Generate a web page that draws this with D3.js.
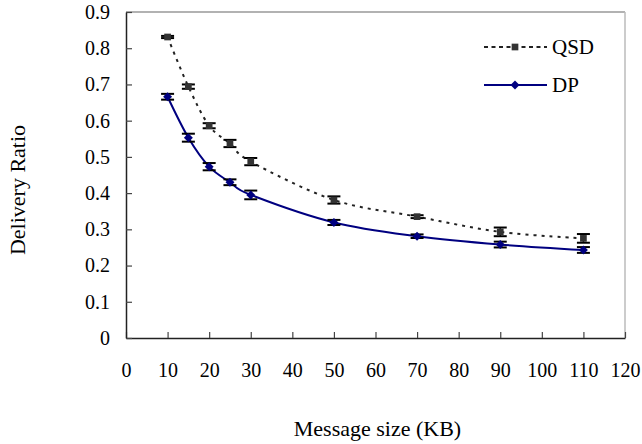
<!DOCTYPE html>
<html>
<head>
<meta charset="utf-8">
<script src="https://cdn.jsdelivr.net/npm/d3@7"></script>
<style>
  body { margin: 0; background: #fff; }
</style>
</head>
<body>
<div id="chart"></div>
<script>
// data
var sizes = [10, 15, 20, 25, 30, 50, 70, 90, 110];
var qsd = [0.831, 0.694, 0.586, 0.537, 0.487, 0.381, 0.335, 0.293, 0.275];
var qsdErr = [0.003, 0.006, 0.007, 0.010, 0.010, 0.010, 0.004, 0.012, 0.012];
var dp = [0.666, 0.553, 0.473, 0.430, 0.395, 0.319, 0.281, 0.258, 0.243];
var dpErr = [0.008, 0.011, 0.010, 0.008, 0.012, 0.007, 0.005, 0.008, 0.008];
var xTicks = [0, 10, 20, 30, 40, 50, 60, 70, 80, 90, 100, 110, 120];
var yTicks = [0, 0.1, 0.2, 0.3, 0.4, 0.5, 0.6, 0.7, 0.8, 0.9];
var seriesNames = ["QSD", "DP"];

var serif = "'Liberation Serif', 'Times New Roman', 'DejaVu Serif', serif";

function drawChart() {
    var width = 642, height = 444;
    var pLeft = 126, pRight = 625, pTop = 12, pBottom = 338;

    var svg = d3.select("#chart").append("svg")
        .attr("width", width)
        .attr("height", height)
        .style("font-family", serif);

    var x = d3.scaleLinear().domain([0, 120]).range([pLeft, pRight]);
    var y = d3.scaleLinear().domain([0, 0.9]).range([pBottom, pTop]);

    // frame: top and right borders are light grey
    svg.append("line")
        .attr("x1", pLeft).attr("x2", pRight).attr("y1", pTop).attr("y2", pTop)
        .attr("stroke", "#999").attr("stroke-width", 1.5);
    svg.append("line")
        .attr("x1", pRight).attr("x2", pRight).attr("y1", pTop).attr("y2", pBottom)
        .attr("stroke", "#bbb").attr("stroke-width", 1.5);

    // axes, ticks pointing inward
    var xAxis = svg.append("g")
        .attr("transform", "translate(0," + pBottom + ")")
        .call(d3.axisBottom(x).tickValues(xTicks).tickSizeInner(-6).tickSizeOuter(0).tickPadding(25));
    var yAxis = svg.append("g")
        .attr("transform", "translate(" + pLeft + ",0)")
        .call(d3.axisLeft(y).tickValues(yTicks)
            .tickFormat(function(d) { return d === 0 ? "0" : d3.format(".1f")(d); })
            .tickSizeInner(-6).tickSizeOuter(0).tickPadding(16));

    [xAxis, yAxis].forEach(function(a) {
        a.attr("font-family", null).attr("font-size", null);
        a.select(".domain").attr("stroke", "#222").attr("stroke-width", 1.5);
        a.selectAll(".tick line").attr("stroke", "#444").attr("stroke-width", 1.2);
        a.selectAll("text").style("font-size", "20px").attr("fill", "#000")
            .style("font-family", serif);
    });

    // axis titles
    svg.append("text")
        .attr("x", (pLeft + pRight) / 2 + 2)
        .attr("y", 436)
        .attr("text-anchor", "middle")
        .style("font-size", "22px")
        .style("font-family", serif)
        .text("Message size (KB)");
    svg.append("text")
        .attr("transform", "translate(25,190) rotate(-90)")
        .attr("text-anchor", "middle")
        .style("font-size", "22px")
        .style("font-family", serif)
        .text("Delivery Ratio");

    var qsdData = sizes.map(function(s, i) { return {x: s, y: qsd[i], e: qsdErr[i]}; });
    var dpData = sizes.map(function(s, i) { return {x: s, y: dp[i], e: dpErr[i]}; });

    var line = d3.line()
        .x(function(d) { return x(d.x); })
        .y(function(d) { return y(d.y); })
        .curve(d3.curveCatmullRom.alpha(0));

    // QSD dotted line
    svg.append("path")
        .datum(qsdData)
        .attr("d", line)
        .attr("fill", "none")
        .attr("stroke", "#222")
        .attr("stroke-width", 2)
        .attr("stroke-dasharray", "3,5");

    // DP solid line
    svg.append("path")
        .datum(dpData)
        .attr("d", line)
        .attr("fill", "none")
        .attr("stroke", "#000080")
        .attr("stroke-width", 2);

    // error bars
    function errorBars(data) {
        var g = svg.append("g");
        g.selectAll("line.v").data(data).enter().append("line")
            .attr("x1", function(d) { return x(d.x); })
            .attr("x2", function(d) { return x(d.x); })
            .attr("y1", function(d) { return y(d.y - d.e); })
            .attr("y2", function(d) { return y(d.y + d.e); })
            .attr("stroke", "#000").attr("stroke-width", 1.5);
        [1, -1].forEach(function(sign) {
            g.selectAll("line.cap" + sign).data(data).enter().append("line")
                .attr("x1", function(d) { return x(d.x) - 6.5; })
                .attr("x2", function(d) { return x(d.x) + 6.5; })
                .attr("y1", function(d) { return y(d.y + sign * d.e); })
                .attr("y2", function(d) { return y(d.y + sign * d.e); })
                .attr("stroke", "#000").attr("stroke-width", 2);
        });
    }
    errorBars(qsdData);
    errorBars(dpData);

    // markers
    var square = d3.symbol().type(d3.symbolSquare).size(45);
    var diamond = d3.symbol().type(d3.symbolSquare).size(40);

    svg.selectAll("path.qsd-pt").data(qsdData).enter().append("path")
        .attr("class", "qsd-pt")
        .attr("d", square)
        .attr("transform", function(d) { return "translate(" + x(d.x) + "," + y(d.y) + ")"; })
        .attr("fill", "#333");

    svg.selectAll("path.dp-pt").data(dpData).enter().append("path")
        .attr("class", "dp-pt")
        .attr("d", diamond)
        .attr("transform", function(d) { return "translate(" + x(d.x) + "," + y(d.y) + ") rotate(45)"; })
        .attr("fill", "#000080");

    // legend
    var legend = svg.append("g");
    var legendRows = [
        {name: seriesNames[0], y: 47, color: "#222", dash: "4,3.5", mark: square, fill: "#333", rot: 0},
        {name: seriesNames[1], y: 85, color: "#000080", dash: null, mark: diamond, fill: "#000080", rot: 45}
    ];
    legendRows.forEach(function(r) {
        legend.append("line")
            .attr("x1", 484).attr("x2", 547).attr("y1", r.y).attr("y2", r.y)
            .attr("stroke", r.color).attr("stroke-width", 2)
            .attr("stroke-dasharray", r.dash);
        legend.append("path")
            .attr("d", r.mark)
            .attr("transform", "translate(515," + r.y + ") rotate(" + r.rot + ")")
            .attr("fill", r.fill);
        legend.append("text")
            .attr("x", 552).attr("y", r.y)
            .attr("dy", "0.35em")
            .style("font-size", "21px")
            .style("font-family", serif)
            .text(r.name);
    });
}

drawChart();
</script>
</body>
</html>
